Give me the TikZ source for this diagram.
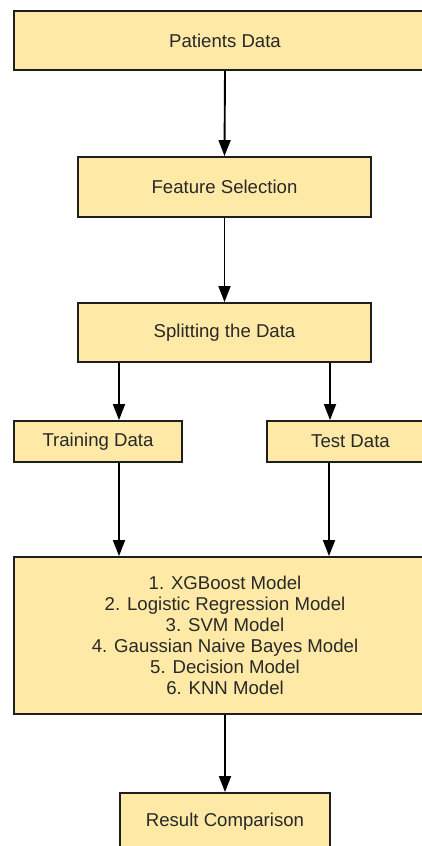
\documentclass[tikz,border=0pt]{standalone}
\usepackage{fontspec}
\setmainfont{Liberation Sans}
\usetikzlibrary{arrows.meta}
\definecolor{boxfill}{RGB}{254,234,166}
\definecolor{boxline}{RGB}{30,30,30}
\definecolor{txt}{RGB}{40,40,40}
\begin{document}
\begin{tikzpicture}[x=1pt,y=-1pt,
  box/.style={draw=boxline,fill=boxfill,line width=1.9pt,inner sep=0pt,align=center,
    text=txt,font=\fontsize{18.6}{21}\selectfont},
  arr/.style={draw=black,line width=1.9pt,-{Triangle[length=16pt,width=12pt]}}]
\useasboundingbox (0,0) rectangle (422,846);
\clip (0,0) rectangle (422,846);
\fill[white] (0,0) rectangle (422,846);
\node[box,minimum width=422pt,minimum height=59pt] (pd) at (225,40.5) {Patients Data};
\node[box,minimum width=293pt,minimum height=60pt] (fs) at (224.5,187) {Feature Selection};
\node[box,minimum width=293pt,minimum height=59pt] (sd) at (224.5,332.5) {Splitting the Data};
\node[box,minimum width=168pt,minimum height=41pt] (tr) at (98,441.5) {Training Data};
\node[box,minimum width=167pt,minimum height=41pt] (te) at (350.5,441.5) {Test Data};
\node[box,minimum width=422pt,minimum height=157pt] (md) at (225,635.5) {1. XGBoost Model\\2. Logistic Regression Model\\3. SVM Model\\4. Gaussian Naive Bayes Model\\5. Decision Model\\6. KNN Model};
\node[box,minimum width=210pt,minimum height=57pt] (rc) at (225,821.5) {Result Comparison};
\draw[arr] (pd.south) -- (fs.north);
\draw[arr] (fs.south) -- (sd.north);
\draw[arr] ([xshift=-105.5pt]sd.south) -- ([xshift=-105.5pt]sd.south |- tr.north);
\draw[arr] ([xshift=105.5pt]sd.south) -- ([xshift=105.5pt]sd.south |- te.north);
\draw[arr] ([xshift=21pt]tr.south) -- ([xshift=21pt]tr.south |- md.north);
\draw[arr] ([xshift=-21.5pt]te.south) -- ([xshift=-21.5pt]te.south |- md.north);
\draw[arr] (md.south) -- (rc.north);
\end{tikzpicture}
\end{document}
